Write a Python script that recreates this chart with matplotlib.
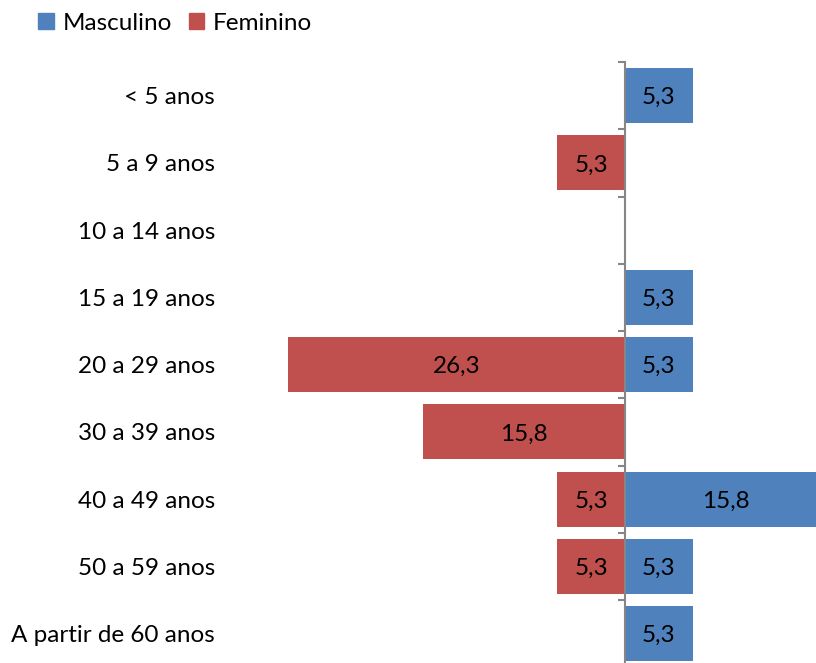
import matplotlib
matplotlib.use("Agg")
import matplotlib.pyplot as plt
from matplotlib.patches import Patch
import numpy as np

# data
categories = ["< 5 anos", "5 a 9 anos", "10 a 14 anos", "15 a 19 anos",
              "20 a 29 anos", "30 a 39 anos", "40 a 49 anos", "50 a 59 anos",
              "A partir de 60 anos"]
masculino = [5.3, 0, 0, 5.3, 5.3, 0, 15.8, 5.3, 5.3]
feminino = [0, 5.3, 0, 0, 26.3, 15.8, 5.3, 5.3, 0]

BLUE = "#4F81BD"
RED = "#C0504D"
FS = 17.5

plt.rcParams["font.family"] = ["Lato", "DejaVu Sans"]

W, H = 816, 663
fig = plt.figure(figsize=(W / 100, H / 100), dpi=100)

# axes placed so that x=0 lands at ~625 px and the rows span 62..667 px
px_per_unit = 12.8
x0_px = 625
xlo, xhi = -27.0, 20.0
left_px = x0_px + xlo * px_per_unit
right_px = x0_px + xhi * px_per_unit
top_px, bot_px = 62, 62 + 9 * 67.25
ax = fig.add_axes([left_px / W, 1 - bot_px / H,
                   (right_px - left_px) / W, (bot_px - top_px) / H])

y = np.arange(len(categories))
ax.barh(y, masculino, height=0.82, color=BLUE, zorder=2)
ax.barh(y, [-v for v in feminino], height=0.82, color=RED, zorder=2)

for i, (m, f) in enumerate(zip(masculino, feminino)):
    if m:
        ax.text(m / 2, i + 0.03, f"{m:.1f}".replace(".", ","), ha="center",
                va="center", fontsize=FS, color="black", zorder=3)
    if f:
        ax.text(-f / 2, i + 0.03, f"{f:.1f}".replace(".", ","), ha="center",
                va="center", fontsize=FS, color="black", zorder=3)

# category labels right-aligned at ~215 px
for i, lab in enumerate(categories):
    ax.text((215 - x0_px) / px_per_unit, i + 0.03, lab, ha="right", va="center",
            fontsize=FS, color="black", clip_on=False)

ax.set_xlim(xlo, xhi)
ax.set_ylim(len(categories) - 0.5, -0.5)
for s in ["top", "right", "bottom"]:
    ax.spines[s].set_visible(False)
ax.spines["left"].set_position(("data", 0))
ax.spines["left"].set_color("#868686")
ax.spines["left"].set_linewidth(1.5)
ax.spines["left"].set_zorder(4)
ax.set_xticks([])
ax.set_yticks(np.arange(-0.5, len(categories), 1.0))
ax.set_yticklabels([])
ax.tick_params(axis="y", length=5, width=1.5, color="#868686", direction="out")

handles = [Patch(color=BLUE, label="Masculino"), Patch(color=RED, label="Feminino")]
fig.legend(handles=handles, loc="center left", bbox_to_anchor=(38 / W, 1 - 23 / H),
           ncol=2, frameon=False, fontsize=FS, handlelength=0.65, handleheight=0.65,
           handletextpad=0.35, columnspacing=0.7, borderaxespad=0, borderpad=0)

fig.savefig("out.png", dpi=100)
